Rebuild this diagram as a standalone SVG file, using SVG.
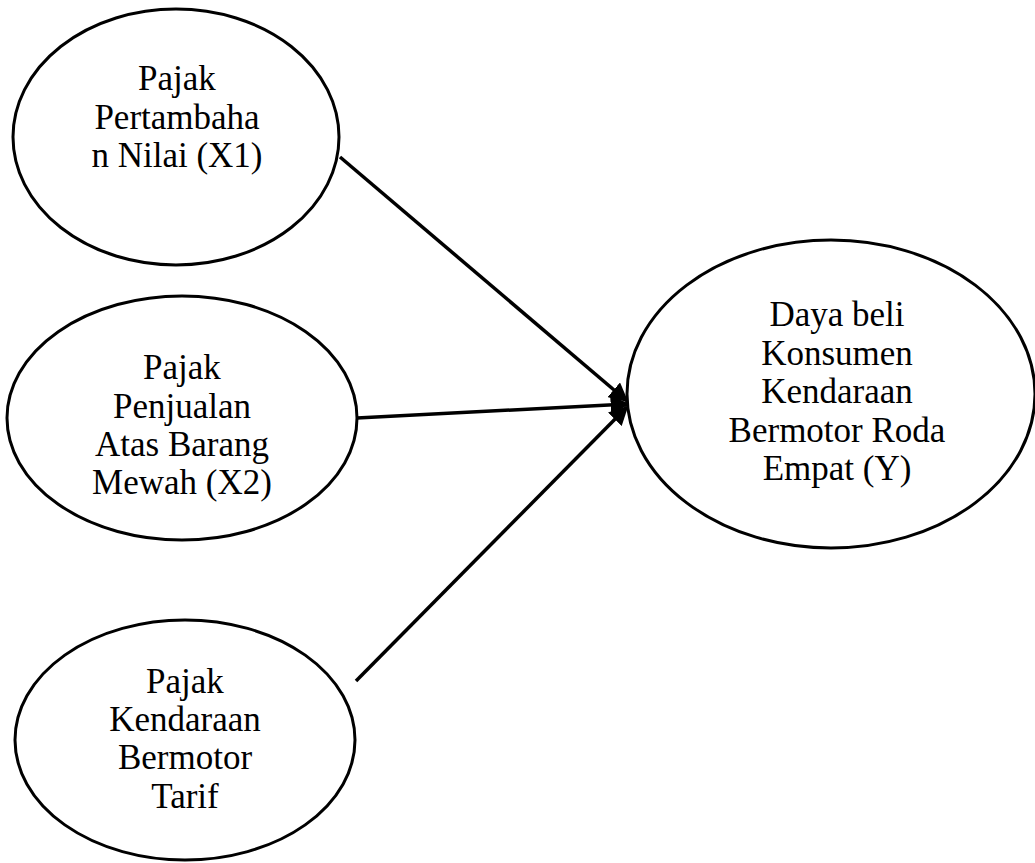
<svg xmlns="http://www.w3.org/2000/svg" width="1035" height="863" viewBox="0 0 1035 863">
<style>
.node{fill:#fff;stroke:#000;stroke-width:3}
.t{font-family:"Liberation Serif","Times New Roman",serif;font-size:35px;fill:#000;text-anchor:middle}
.c{stroke:#000;stroke-width:3.5;fill:none;marker-end:url(#ah)}
</style>
<defs>
<marker id="ah" viewBox="0 0 10 10" refX="9" refY="5" markerWidth="5.5" markerHeight="5.5" orient="auto" markerUnits="strokeWidth">
<path d="M0,0 L10,5 L0,10 z" fill="#000"/>
</marker>
</defs>
<rect width="1035" height="863" fill="#fff"/>
<g id="connectors">
<line class="c" x1="340" y1="157" x2="627" y2="401"/>
<line class="c" x1="357" y1="418" x2="628" y2="404"/>
<line class="c" x1="356" y1="681" x2="627" y2="407"/>
</g>
<g id="x1">
<ellipse class="node" cx="176" cy="137" rx="163" ry="128"/>
<text class="t" x="177" y="90">Pajak</text>
<text class="t" x="177" y="128.5">Pertambaha</text>
<text class="t" x="177" y="167">n Nilai (X1)</text>
</g>
<g id="x2">
<ellipse class="node" cx="182" cy="418" rx="175" ry="122"/>
<text class="t" x="182" y="379">Pajak</text>
<text class="t" x="182" y="418">Penjualan</text>
<text class="t" x="182" y="456">Atas Barang</text>
<text class="t" x="182" y="494">Mewah (X2)</text>
</g>
<g id="x3">
<ellipse class="node" cx="185" cy="740" rx="170" ry="120"/>
<text class="t" x="185" y="693">Pajak</text>
<text class="t" x="185" y="731">Kendaraan</text>
<text class="t" x="185" y="769">Bermotor</text>
<text class="t" x="185" y="808">Tarif</text>
</g>
<g id="y">
<ellipse class="node" cx="831" cy="394" rx="204" ry="154"/>
<text class="t" x="837" y="326">Daya beli</text>
<text class="t" x="837" y="364.5">Konsumen</text>
<text class="t" x="837" y="403">Kendaraan</text>
<text class="t" x="837" y="441.5">Bermotor Roda</text>
<text class="t" x="837" y="480">Empat (Y)</text>
</g>
</svg>
